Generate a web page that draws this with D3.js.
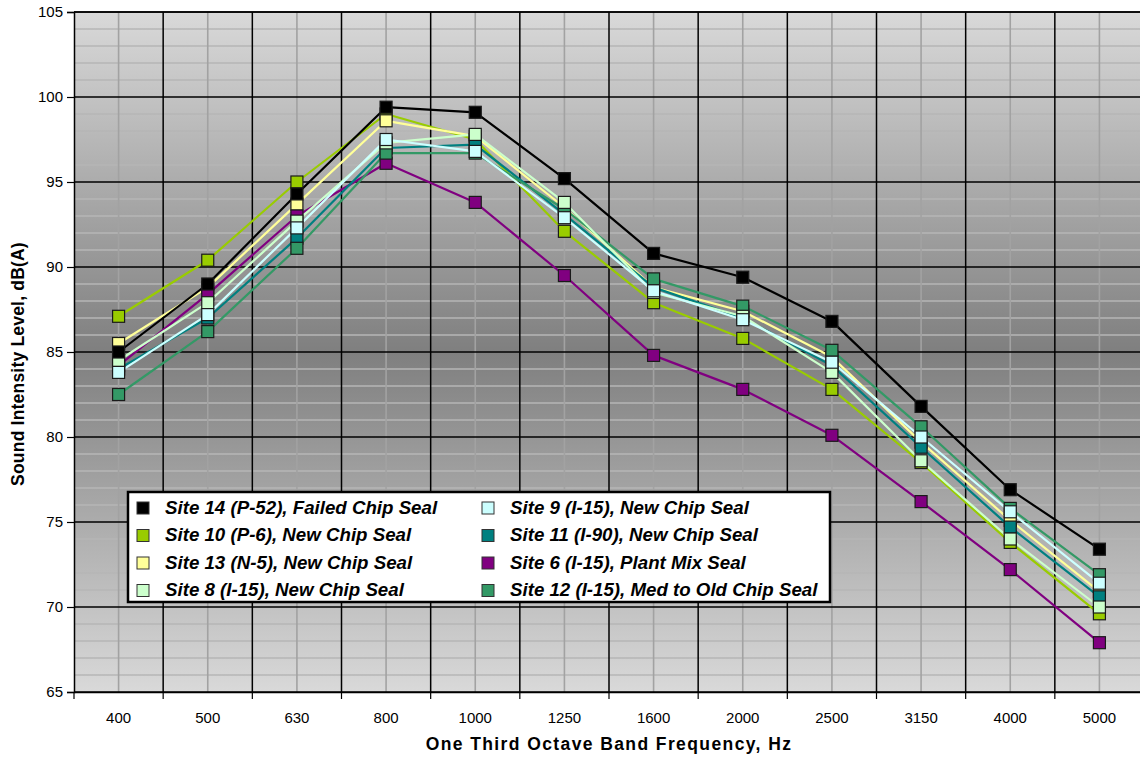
<!DOCTYPE html>
<html>
<head>
<meta charset="utf-8">
<script src="https://cdn.jsdelivr.net/npm/d3@7"></script>
<style>
  html, body { margin: 0; padding: 0; background: #ffffff; }
  svg { display: block; }
</style>
</head>
<body>
<svg id="chart" width="1140" height="757"></svg>
<script>
// ---------- DATA ----------
const categories = ["400","500","630","800","1000","1250","1600","2000","2500","3150","4000","5000"];
const yTickValues = [65, 70, 75, 80, 85, 90, 95, 100, 105];

const site14 = [85.0, 89.0, 94.3, 99.4, 99.1, 95.2, 90.8, 89.4, 86.8, 81.8, 76.9, 73.4];
const site10 = [87.1, 90.4, 95.0, 99.0, 97.5, 92.1, 87.9, 85.8, 82.8, 78.5, 73.8, 69.6];
const site13 = [85.5, 88.8, 93.7, 98.6, 97.7, 93.5, 88.8, 87.4, 84.7, 79.7, 75.1, 70.9];
const site8  = [84.5, 87.9, 92.7, 97.3, 97.8, 93.8, 88.5, 87.1, 83.8, 78.6, 74.0, 70.0];
const site9  = [83.8, 87.2, 92.3, 97.5, 96.8, 92.9, 88.6, 86.9, 84.4, 80.0, 75.6, 71.4];
const site11 = [84.0, 87.0, 91.7, 97.0, 97.2, 93.1, 88.8, 87.0, 84.2, 79.4, 74.7, 70.6];
const site6  = [84.2, 88.4, 93.0, 96.1, 93.8, 89.5, 84.8, 82.8, 80.1, 76.2, 72.2, 67.9];
const site12 = [82.5, 86.2, 91.1, 96.7, 96.7, 93.4, 89.3, 87.7, 85.1, 80.6, 75.8, 71.9];

const seriesNames = [
  "Site 14 (P-52), Failed Chip Seal",
  "Site 10 (P-6), New Chip Seal",
  "Site 13 (N-5), New Chip Seal",
  "Site 8 (I-15), New Chip Seal",
  "Site 9 (I-15), New Chip Seal",
  "Site 11 (I-90), New Chip Seal",
  "Site 6 (I-15), Plant Mix Seal",
  "Site 12 (I-15), Med to Old Chip Seal"
];
const seriesValues = [site14, site10, site13, site8, site9, site11, site6, site12];
const seriesColors = ["#000000", "#99cc00", "#ffff99", "#ccffcc", "#ccffff", "#008080", "#800080", "#339966"];
// drawing order (index into series), last drawn on top
const drawOrder = [1, 2, 6, 5, 7, 3, 4, 0];

const xTitle = "One Third Octave Band Frequency, Hz";
const yTitle = "Sound Intensity Level, dB(A)";

// ---------- LAYOUT ----------
const plot = { left: 74, right: 1144, top: 12, bottom: 692 };
const svg = d3.select("#chart");

const x = d3.scaleBand().domain(categories).range([plot.left, plot.right]).padding(0);
const y = d3.scaleLinear().domain([65, 105]).range([plot.bottom, plot.top]);
const cx = c => x(c) + x.bandwidth() / 2;

// background gradient
const defs = svg.append("defs");
const grad = defs.append("linearGradient").attr("id", "bg").attr("x1", 0).attr("y1", 0).attr("x2", 0).attr("y2", 1);
grad.append("stop").attr("offset", "0%").attr("stop-color", "#d9d9d9");
grad.append("stop").attr("offset", "50%").attr("stop-color", "#7f7f7f");
grad.append("stop").attr("offset", "100%").attr("stop-color", "#d9d9d9");
defs.append("clipPath").attr("id", "clip").append("rect")
  .attr("x", plot.left).attr("y", plot.top - 1)
  .attr("width", plot.right - plot.left).attr("height", plot.bottom - plot.top + 2);

svg.append("rect")
  .attr("x", plot.left).attr("y", plot.top)
  .attr("width", plot.right - plot.left).attr("height", plot.bottom - plot.top)
  .attr("fill", "url(#bg)");

const grid = svg.append("g");
// minor horizontal grid lines every 1 dB
const minorY = d3.range(66, 105).filter(v => v % 5 !== 0);
grid.selectAll("line.minorY").data(minorY).join("line")
  .attr("x1", plot.left).attr("x2", plot.right)
  .attr("y1", d => y(d)).attr("y2", d => y(d))
  .attr("stroke", "#b6b6b6").attr("stroke-width", 1.6);
// minor vertical grid lines at category centres
grid.selectAll("line.minorX").data(categories).join("line")
  .attr("x1", d => cx(d)).attr("x2", d => cx(d))
  .attr("y1", plot.top).attr("y2", plot.bottom)
  .attr("stroke", "#a2a2a2").attr("stroke-width", 1.6);
// major horizontal
grid.selectAll("line.majorY").data(yTickValues).join("line")
  .attr("x1", plot.left).attr("x2", plot.right)
  .attr("y1", d => y(d)).attr("y2", d => y(d))
  .attr("stroke", "#000").attr("stroke-width", 1.5);
// major vertical at band boundaries
const boundaries = categories.map(c => x(c)).concat([plot.right]);
grid.selectAll("line.majorX").data(boundaries.slice(1)).join("line")
  .attr("x1", d => d).attr("x2", d => d)
  .attr("y1", plot.top).attr("y2", plot.bottom)
  .attr("stroke", "#000").attr("stroke-width", 1.5);

// axes
const yAxis = d3.axisLeft(y).tickValues(yTickValues).tickSize(7).tickPadding(4);
const gy = svg.append("g").attr("transform", `translate(${plot.left},0)`).call(yAxis);
gy.select(".domain").attr("stroke", "#000").attr("stroke-width", 1.5);
gy.selectAll(".tick line").attr("stroke", "#000").attr("stroke-width", 1.2);
gy.selectAll(".tick text")
  .attr("font-family", "'Liberation Sans Narrow', 'Arial Narrow', Arial, sans-serif")
  .attr("font-size", 15).attr("fill", "#000");

const xAxis = d3.axisBottom(x).tickSize(0).tickPadding(20);
const gx = svg.append("g").attr("transform", `translate(0,${plot.bottom})`).call(xAxis);
gx.select(".domain").attr("stroke", "#000").attr("stroke-width", 1.5);
gx.selectAll(".tick text")
  .attr("font-family", "'Liberation Sans Narrow', 'Arial Narrow', Arial, sans-serif")
  .attr("font-size", 15).attr("fill", "#000");
gx.selectAll("line.bt").data(boundaries).join("line").attr("class", "bt")
  .attr("x1", d => d).attr("x2", d => d).attr("y1", 0).attr("y2", 7)
  .attr("stroke", "#000").attr("stroke-width", 1.2);

// series
const line = d3.line().x((d, i) => cx(categories[i])).y(d => y(d));
const gLines = svg.append("g").attr("clip-path", "url(#clip)");
drawOrder.forEach(si => {
  gLines.append("path")
    .datum(seriesValues[si])
    .attr("d", line)
    .attr("fill", "none")
    .attr("stroke", seriesColors[si])
    .attr("stroke-width", 2.2)
    .attr("stroke-linejoin", "round");
});
const ms = 12;
const gMarks = svg.append("g");
drawOrder.forEach(si => {
  gMarks.selectAll(null).data(seriesValues[si]).join("rect")
    .attr("x", (d, i) => cx(categories[i]) - ms / 2)
    .attr("y", d => y(d) - ms / 2)
    .attr("width", ms).attr("height", ms)
    .attr("fill", seriesColors[si])
    .attr("stroke", "#1a1a1a").attr("stroke-width", 1.2);
});

// top border
svg.append("line").attr("x1", plot.left).attr("x2", plot.right)
  .attr("y1", plot.top).attr("y2", plot.top).attr("stroke", "#000").attr("stroke-width", 1.5);

// legend
const lg = svg.append("g");
lg.append("rect").attr("x", 128).attr("y", 492).attr("width", 702).attr("height", 110)
  .attr("fill", "#fff").attr("stroke", "#000").attr("stroke-width", 2.5);
const colX = [143, 488];
const rowY = [507, 534.5, 562, 589.5];
seriesNames.forEach((name, i) => {
  const col = Math.floor(i / 4), row = i % 4;
  const g = lg.append("g").attr("transform", `translate(${colX[col]},${rowY[row]})`);
  g.append("rect").attr("x", -6).attr("y", -5).attr("width", 12).attr("height", 12)
    .attr("fill", seriesColors[i]).attr("stroke", "#333").attr("stroke-width", 1);
  g.append("text").attr("x", 22).attr("y", 0).attr("dy", "0.35em")
    .attr("font-family", "Arial, 'Liberation Sans', sans-serif")
    .attr("font-size", 18.7).attr("font-weight", "bold").attr("font-style", "italic")
    .attr("fill", "#000").text(name);
});

// axis titles
svg.append("text").attr("x", (plot.left + plot.right) / 2).attr("y", 750)
  .attr("text-anchor", "middle")
  .attr("font-family", "Arial, 'Liberation Sans', sans-serif")
  .attr("font-size", 17.5).attr("letter-spacing", 1.4).attr("font-weight", "bold").attr("fill", "#000").text(xTitle);
svg.append("text").attr("transform", `translate(24,${364}) rotate(-90)`)
  .attr("text-anchor", "middle")
  .attr("font-family", "Arial, 'Liberation Sans', sans-serif")
  .attr("font-size", 17.5).attr("letter-spacing", 0.2).attr("font-weight", "bold").attr("fill", "#000").text(yTitle);
</script>
</body>
</html>
